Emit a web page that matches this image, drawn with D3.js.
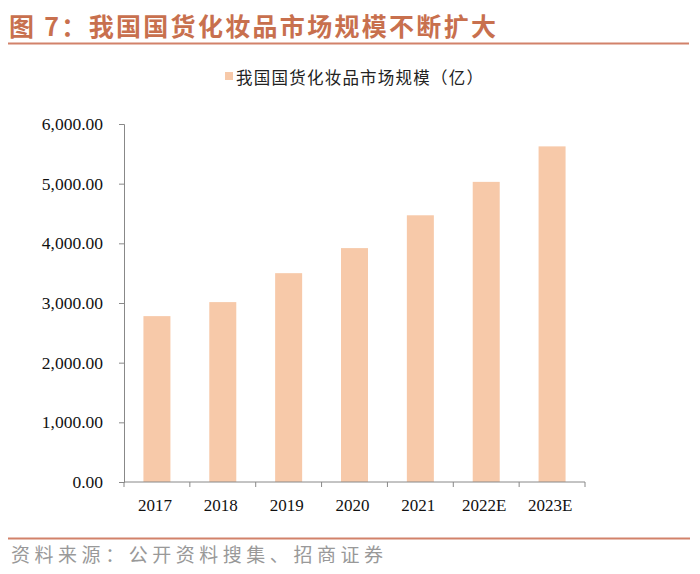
<!DOCTYPE html>
<html><head><meta charset="utf-8">
<script src="https://cdn.jsdelivr.net/npm/d3@7"></script>
<style>body{margin:0;background:#fff}svg{display:block}</style>
</head><body>
<svg id="c" width="700" height="574"></svg>
<script>
const categories = ["2017","2018","2019","2020","2021","2022E","2023E"];
const values = [2780, 3015, 3500, 3920, 4470, 5030, 5625];
const yTicks = [0,1000,2000,3000,4000,5000,6000];
const seriesName = "我国国货化妆品市场规模（亿）";
const titleText = "图 7：我国国货化妆品市场规模不断扩大";
const sourceText = "资料来源：公开资料搜集、招商证券";

const svg = d3.select("#c");
const serif = "'Liberation Serif','Times New Roman',serif";
const cjk = "'Noto Sans CJK SC',sans-serif";
const orange = "#c8704e";

svg.append("text").attr("x",9).attr("y",36).attr("font-family",cjk).attr("font-weight","bold")
  .attr("font-size",25).attr("fill",orange).attr("textLength",487).attr("lengthAdjust","spacing").text(titleText);
svg.append("line").attr("x1",8).attr("x2",689).attr("y1",43.5).attr("y2",43.5).attr("stroke","#d2826a").attr("stroke-width",2);

const x = d3.scaleBand().domain(categories).range([124,585]).paddingInner(0.59).paddingOuter(0.295);
const xb = d3.scaleBand().domain(categories).range([124,585]);
const y = d3.scaleLinear().domain([0,6000]).range([482,124]);

// legend
svg.append("rect").attr("x",225).attr("y",72).attr("width",8).attr("height",8).attr("fill","#f7c9a9");
svg.append("text").attr("x",236).attr("y",84).attr("font-family",cjk).attr("font-size",16.5).attr("fill","#222")
  .attr("textLength",247).attr("lengthAdjust","spacing").text(seriesName);

svg.append("g").selectAll("rect").data(values).join("rect")
  .attr("x",(d,i)=>x(categories[i])).attr("width",x.bandwidth())
  .attr("y",d=>y(d)).attr("height",d=>y(0)-y(d)).attr("fill","#f7c9a9");

const ya = svg.append("g").attr("transform","translate(124,0)")
  .call(d3.axisLeft(y).tickValues(yTicks).tickSize(5).tickFormat(d3.format(",.2f")));
ya.selectAll("path,line").attr("stroke","#888");
ya.selectAll("text").attr("font-family",serif).attr("font-size",17.5).attr("fill","#111").attr("dx",-13);

const xa = svg.append("g").attr("transform","translate(0,482)");
xa.append("line").attr("x1",124).attr("x2",585).attr("stroke","#888");
const bounds = categories.map(c=>xb(c)).concat([585]);
xa.selectAll(".t").data(bounds).join("line").attr("x1",d=>d).attr("x2",d=>d).attr("y1",0).attr("y2",5).attr("stroke","#888");
xa.selectAll("text").data(categories).join("text").attr("x",d=>xb(d)+xb.bandwidth()/2-2).attr("y",29)
  .attr("text-anchor","middle").attr("font-family",serif).attr("font-size",17).attr("fill","#111").text(d=>d);

svg.append("line").attr("x1",8).attr("x2",690).attr("y1",538.5).attr("y2",538.5).attr("stroke","#d2826a").attr("stroke-width",2);
svg.append("text").attr("x",11).attr("y",562).attr("font-family",cjk).attr("font-size",19).attr("fill","#999")
  .attr("textLength",372).attr("lengthAdjust","spacing").text(sourceText);
</script>
</body></html>
